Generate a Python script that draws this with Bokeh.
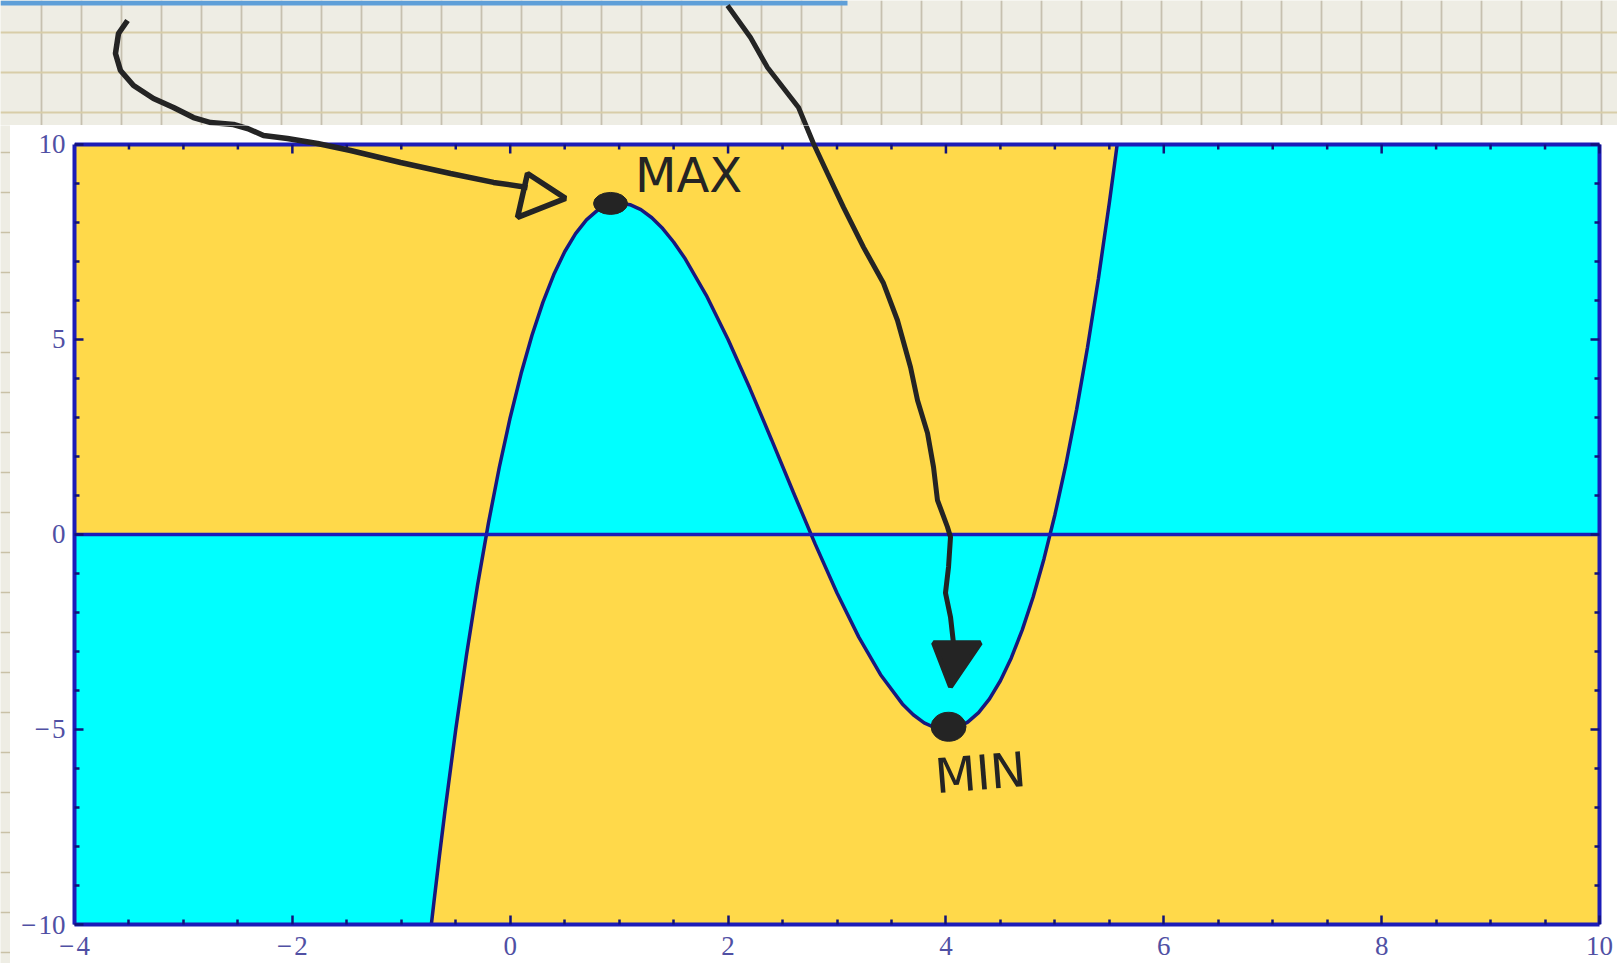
import numpy as np
from bokeh.plotting import figure
from bokeh.models import Range1d, LinearAxis, FixedTicker, Grid
from bokeh.layouts import column, row
from bokeh.embed import file_html
from bokeh.resources import INLINE
from bokeh.core.properties import value

# ---------------- data ----------------
X_LIM = (-4, 10)
Y_LIM = (-10, 10)
X_TICKS = [-4, -2, 0, 2, 4, 6, 8, 10]
Y_TICKS = [-10, -5, 0, 5, 10]
X_MINOR = [-3.5, -3, -2.5, -1.5, -1, -0.5, 0.5, 1, 1.5, 2.5, 3, 3.5, 4.5, 5, 5.5,
           6.5, 7, 7.5, 8.5, 9, 9.5]
Y_MINOR = [-9, -8, -7, -6, -4, -3, -2, -1, 1, 2, 3, 4, 6, 7, 8, 9]

# curve (max near (1, 8.5), min near (4, -5))
curve_x = [-0.724, -0.7, -0.65, -0.6, -0.5, -0.4, -0.3, -0.2, -0.1, 0.0, 0.1, 0.2, 0.3,
           0.4, 0.5, 0.6, 0.7, 0.8, 0.9, 1.0, 1.1, 1.2, 1.3, 1.4, 1.5, 1.6, 1.8, 2.0,
           2.2, 2.4, 2.6, 2.8, 3.0, 3.2, 3.4, 3.6, 3.7, 3.8, 3.9, 4.0, 4.1, 4.2, 4.3,
           4.4, 4.5, 4.6, 4.7, 4.8, 4.9, 5.0, 5.1, 5.2, 5.3, 5.4, 5.5, 5.55, 5.572]
curve_y = [-10.0, -9.418, -8.243, -7.116, -5.0, -3.064, -1.302, 0.292, 1.724, 3.0, 4.126,
           5.108, 5.952, 6.664, 7.25, 7.716, 8.068, 8.312, 8.454, 8.5, 8.456, 8.328,
           8.122, 7.844, 7.5, 7.096, 6.132, 5.0, 3.748, 2.424, 1.076, -0.248, -1.5,
           -2.632, -3.596, -4.344, -4.622, -4.828, -4.956, -5.0, -4.954, -4.812, -4.568,
           -4.216, -3.75, -3.164, -2.452, -1.608, -0.626, 0.5, 1.776, 3.208, 4.802,
           6.564, 8.5, 9.535, 10.0]

# hand-drawn annotations (chart units)
arrow1_x = [-3.513, -3.596, -3.624, -3.578, -3.458, -3.275, -3.091, -2.908, -2.751,
            -2.540, -2.412, -2.265, -2.045, -1.769, -1.466, -1.007, -0.548, -0.153, 0.159]
arrow1_y = [13.175, 12.843, 12.330, 11.895, 11.511, 11.178, 10.948, 10.691, 10.563,
            10.512, 10.410, 10.230, 10.154, 10.026, 9.846, 9.539, 9.257, 9.027, 8.899]
head1_x = [0.159, 0.508, 0.067]
head1_y = [9.257, 8.617, 8.131]
arrow2_x = [1.995, 2.206, 2.362, 2.647, 2.784, 2.913, 3.060, 3.244, 3.427, 3.555, 3.675,
            3.739, 3.831, 3.886, 3.922, 4.014, 4.042, 4.024, 3.996, 4.042, 4.069]
arrow2_y = [13.560, 12.740, 11.972, 10.948, 10.026, 9.257, 8.387, 7.362, 6.440, 5.493,
            4.289, 3.444, 2.599, 1.729, 0.883, 0.192, -0.064, -0.832, -1.498, -2.113, -2.779]
head2_x = [3.886, 4.317, 4.042]
head2_y = [-2.779, -2.779, -3.906]
dot_x = [0.921, 4.024]
dot_y = [8.489, -4.930]
dot_w = [0.312, 0.321]
dot_h = [0.563, 0.743]
note_x = [1.637, 4.317]
note_y = [9.206, -6.108]
note_text = ["MAX", "MIN"]
note_angle = [0.0, 0.08]

# ---------------- style ----------------
YELLOW = "#FFD94A"
CYAN = "#00FFFF"
CURVE = "#18187E"
FRAME = "#1C1CB8"
TICKC = "#12127A"
LABEL = "#5050A4"
INK = "#242424"
PAPER = "#EEEDE4"
BAR = "#5E9FD8"

W = 1617
TOP_H = 125
MAIN_H = 838
STRIP_W = 10
PX_X = 1525 / 14.0      # frame x: page 74..1599
PX_Y = 781 / 20.0       # frame y: page 144..925
y_top_main = 10 + 19 / PX_Y
x_lo = -4 - 74 / PX_X
x_hi = 10 + 18 / PX_X
x_main_hi = 10 + 4 / PX_X
paper_h_all = [10 + (144 - 31.7 - 40 * k) / PX_Y for k in range(24)]

# ---------------- top strip: graph paper ----------------
top = figure(width=W, height=TOP_H, x_range=Range1d(x_lo, x_hi),
             y_range=Range1d(y_top_main, y_top_main + TOP_H / PX_Y),
             output_backend="svg", toolbar_location=None,
             x_axis_location=None, y_axis_location=None, min_border=0)
if hasattr(top, "frame_align"):
    top.frame_align = False
top.xgrid.visible = False
top.ygrid.visible = False
top.outline_line_color = None
top.background_fill_color = PAPER
top.border_fill_color = PAPER
paper_v = list(np.arange(-4 - 33.3 / PX_X, x_hi, 40 / PX_X))
top.add_layout(Grid(dimension=0, ticker=FixedTicker(ticks=paper_v),
                    grid_line_color="#C6C0AF", grid_line_width=1.8))
top.add_layout(Grid(dimension=1, ticker=FixedTicker(ticks=paper_h_all[:3]),
                    grid_line_color="#D8CDA8", grid_line_width=2.2))
top.quad(left=x_lo, right=-4 + (847 - 74) / PX_X, bottom=10 + (144 - 5) / PX_Y,
         top=10 + 144 / PX_Y, fill_color=BAR, line_color=None)
top.line(arrow1_x, arrow1_y, line_color=INK, line_width=5.5)
top.line(arrow2_x, arrow2_y, line_color=INK, line_width=5)

# ---------------- left edge strip of paper ----------------
strip = figure(width=STRIP_W, height=MAIN_H, x_range=Range1d(0, 1),
               y_range=Range1d(10 - (963 - 144) / PX_Y, y_top_main),
               output_backend="svg", toolbar_location=None,
               x_axis_location=None, y_axis_location=None, min_border=0)
if hasattr(strip, "frame_align"):
    strip.frame_align = False
strip.xgrid.visible = False
strip.ygrid.visible = False
strip.outline_line_color = None
strip.background_fill_color = PAPER
strip.border_fill_color = PAPER
strip.add_layout(Grid(dimension=1, ticker=FixedTicker(ticks=paper_h_all[3:]),
                      grid_line_color="#C9C1A6", grid_line_width=1.5))

# ---------------- main plot ----------------
p = figure(width=W - STRIP_W, height=MAIN_H, x_range=Range1d(X_LIM[0], x_main_hi),
           y_range=Range1d(Y_LIM[0], y_top_main),
           output_backend="svg", toolbar_location=None,
           x_axis_location=None, y_axis_location=None,
           min_border_left=74 - STRIP_W, min_border_right=14, min_border_top=0,
           min_border_bottom=38)
if hasattr(p, "frame_align"):
    p.frame_align = False
p.xgrid.visible = False
p.ygrid.visible = False
p.outline_line_color = None
p.background_fill_color = "white"
p.border_fill_color = "white"

fill_x = [X_LIM[0]] + curve_x + [X_LIM[1]]
fill_y = [Y_LIM[0]] + curve_y + [Y_LIM[1]]
p.varea(x=list(X_LIM), y1=[Y_LIM[0]] * 2, y2=[Y_LIM[1]] * 2, fill_color=YELLOW)
p.varea(x=fill_x, y1=0, y2=fill_y, fill_color=CYAN)
p.line(curve_x, curve_y, line_color=CURVE, line_width=3.5)
p.line(list(X_LIM), [0, 0], line_color=FRAME, line_width=3.5)
# top and right edges of the frame, with their ticks
p.line(list(X_LIM), [Y_LIM[1]] * 2, line_color=FRAME, line_width=4)
p.line([X_LIM[1]] * 2, list(Y_LIM), line_color=FRAME, line_width=4)
p.segment(x0=X_TICKS, y0=[Y_LIM[1]] * len(X_TICKS), x1=X_TICKS,
          y1=[Y_LIM[1] - 9 / PX_Y] * len(X_TICKS), line_color=TICKC, line_width=2.5)
p.segment(x0=X_MINOR, y0=[Y_LIM[1]] * len(X_MINOR), x1=X_MINOR,
          y1=[Y_LIM[1] - 5 / PX_Y] * len(X_MINOR), line_color=TICKC, line_width=2.5)
p.segment(x0=[X_LIM[1]] * len(Y_TICKS), y0=Y_TICKS, x1=[X_LIM[1] - 9 / PX_X] * len(Y_TICKS),
          y1=Y_TICKS, line_color=TICKC, line_width=2.5)
p.segment(x0=[X_LIM[1]] * len(Y_MINOR), y0=Y_MINOR, x1=[X_LIM[1] - 5 / PX_X] * len(Y_MINOR),
          y1=Y_MINOR, line_color=TICKC, line_width=2.5)


def lab(t):
    return "\u2212\u200a" + str(abs(t)) if t < 0 else str(t)


def style(ax):
    ax.axis_line_color = FRAME
    ax.axis_line_width = 4
    ax.major_tick_in = 9
    ax.major_tick_out = 0
    ax.minor_tick_in = 5
    ax.minor_tick_out = 0
    ax.major_tick_line_color = TICKC
    ax.minor_tick_line_color = TICKC
    ax.major_tick_line_width = 2.5
    ax.minor_tick_line_width = 2.5
    ax.major_label_text_font = "Liberation Serif"
    ax.major_label_text_color = LABEL


xax = LinearAxis(ticker=FixedTicker(ticks=X_TICKS, minor_ticks=X_MINOR), bounds=X_LIM,
                 major_label_overrides={t: lab(t) for t in X_TICKS})
style(xax)
xax.major_label_text_font_size = "27px"
xax.major_label_standoff = 6
p.add_layout(xax, "below")

yax = LinearAxis(ticker=FixedTicker(ticks=Y_TICKS, minor_ticks=Y_MINOR), bounds=Y_LIM,
                 major_label_overrides={t: lab(t) for t in Y_TICKS})
style(yax)
yax.major_label_text_font_size = "27px"
yax.major_label_standoff = 9
p.add_layout(yax, "left")

# hand-drawn notes
p.line(arrow1_x, arrow1_y, line_color=INK, line_width=5.5)
p.patch(head1_x, head1_y, fill_color=None, line_color=INK, line_width=5.5)
p.line(arrow2_x, arrow2_y, line_color=INK, line_width=5)
p.patch(head2_x, head2_y, fill_color=INK, line_color=INK, line_width=5)
p.ellipse(x=dot_x, y=dot_y, width=dot_w, height=dot_h, fill_color=INK, line_color=INK)
p.text(x=note_x, y=note_y, text=note_text, angle=note_angle, text_align="center",
       text_baseline="middle", text_font=value("DejaVu Sans"), text_font_size="48px",
       text_color=INK)

layout = column(top, row(strip, p, spacing=0), spacing=0)
open("out.html", "w").write(file_html(layout, INLINE))
